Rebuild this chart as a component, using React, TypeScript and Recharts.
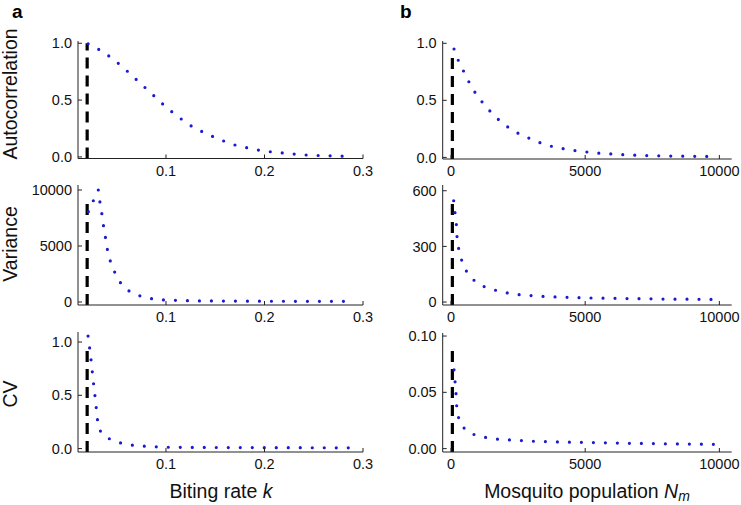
import React from 'react'
import { LineChart, Line, XAxis, YAxis, ReferenceLine } from 'recharts'

const FONT = '"Liberation Sans", Arial, Helvetica, sans-serif'
const DOT_BLUE = '#1a1ad0'

// column a: biting rate k
const kAuto = [0.021, 0.03, 0.04, 0.05, 0.06, 0.07, 0.08, 0.09, 0.1, 0.11, 0.12, 0.13, 0.14, 0.15, 0.16, 0.17, 0.18, 0.19, 0.2, 0.22, 0.24, 0.26, 0.284]
const autoK = [0.995, 0.955, 0.9, 0.835, 0.76, 0.68, 0.6, 0.52, 0.44, 0.37, 0.305, 0.25, 0.21, 0.17, 0.135, 0.105, 0.085, 0.066, 0.052, 0.033, 0.018, 0.011, 0.006]

const kVar = [0.0212, 0.0263, 0.0313, 0.033, 0.035, 0.0367, 0.0387, 0.0407, 0.0438, 0.0485, 0.0545, 0.0636, 0.0751, 0.0872, 0.0993, 0.112, 0.125, 0.15, 0.2, 0.25, 0.285]
const varK = [8065, 9048, 10000, 8900, 7827, 6726, 5685, 4613, 3571, 2560, 1637, 923, 506, 268, 179, 140, 110, 90, 70, 60, 55]

const kCv = [0.0209, 0.0226, 0.024, 0.0253, 0.0266, 0.028, 0.0293, 0.0306, 0.034, 0.0434, 0.0552, 0.067, 0.0795, 0.0916, 0.104, 0.13, 0.16, 0.2, 0.25, 0.289]
const cvK = [1.056, 0.9375, 0.828, 0.7125, 0.6, 0.4875, 0.375, 0.2625, 0.156, 0.0875, 0.05, 0.031, 0.022, 0.0156, 0.0125, 0.011, 0.01, 0.009, 0.008, 0.007]

// column b: mosquito population N_m
const nAuto = [112, 273, 472, 671, 907, 1193, 1491, 1801, 2174, 2584, 2994, 3404, 3839, 4298, 4745, 5193, 5640, 6099, 6547, 7006, 7453, 7913, 8373, 8832, 9292, 9752]
const autoN = [0.95, 0.849, 0.754, 0.66, 0.565, 0.476, 0.396, 0.325, 0.257, 0.201, 0.16, 0.121, 0.092, 0.072, 0.056, 0.044, 0.035, 0.028, 0.022, 0.018, 0.015, 0.013, 0.011, 0.01, 0.009, 0.008]

const nVar = [99, 149, 199, 224, 286, 398, 584, 882, 1255, 1689, 2137, 2584, 3043, 3490, 3950, 4397, 4857, 6000, 7000, 8000, 9000, 9851]
const varN = [546, 480, 418, 352, 287, 225, 164, 114, 82, 62.5, 48, 39, 34, 30, 27, 25, 23, 20, 18, 16, 15, 14]

const nCv = [112, 149, 186, 211, 286, 497, 870, 1317, 1764, 2211, 2671, 3118, 3578, 5000, 6500, 8000, 9963]
const cvN = [0.07, 0.0598, 0.0488, 0.0379, 0.0272, 0.018, 0.0124, 0.0098, 0.0083, 0.0077, 0.0071, 0.0065, 0.0062, 0.0055, 0.0048, 0.0043, 0.0038]

const kTicks = [0.1, 0.2, 0.3]
const nTicks = [0, 5000, 10000]
const unitTicks = [0, 0.5, 1]
const varKTicks = [0, 5000, 10000]
const varNTicks = [0, 300, 600]
const cvNTicks = [0, 0.05, 0.1]

const thresholdK = 0.02
const thresholdN = 50

const zip = (xs: number[], ys: number[]) => xs.map((x, i) => ({ x, y: ys[i] }))

type PanelProps = {
  left: number
  top: number
  width: number
  plotH: number
  ml: number
  mr: number
  xs: number[]
  ys: number[]
  xDomain: [number, number]
  xTicks: number[]
  xFmt: (v: number) => string
  yDomain: [number, number]
  yTicks: number[]
  yFmt: (v: number) => string
  refX: number
  refTop: number
}

function Panel(p: PanelProps) {
  const tickStyle = { fontSize: 14.5, fill: '#111', fontFamily: FONT }
  const h = p.plotH + 5 + 30
  return (
    <div style={{ position: 'absolute', left: p.left, top: p.top - 5 }}>
      <LineChart
        width={p.width}
        height={h}
        data={zip(p.xs, p.ys)}
        margin={{ top: 5, right: p.mr, bottom: 0, left: p.ml }}
      >
        <XAxis
          dataKey="x"
          type="number"
          domain={p.xDomain}
          allowDataOverflow
          ticks={p.xTicks}
          interval={0}
          tickFormatter={p.xFmt}
          height={30}
          tickSize={-4}
          tickMargin={11}
          tick={tickStyle}
          axisLine={{ stroke: '#222' }}
          tickLine={{ stroke: '#222' }}
        />
        <YAxis
          type="number"
          domain={p.yDomain}
          allowDataOverflow
          ticks={p.yTicks}
          interval={0}
          tickFormatter={p.yFmt}
          width={60}
          tickSize={-4}
          tickMargin={10}
          tick={tickStyle}
          axisLine={{ stroke: '#222' }}
          tickLine={{ stroke: '#222' }}
        />
        <ReferenceLine
          segment={[
            { x: p.refX, y: p.yDomain[0] },
            { x: p.refX, y: p.refTop },
          ]}
          stroke="#000"
          strokeWidth={3.2}
          strokeDasharray="11 7"
          ifOverflow="visible"
        />
        <Line
          dataKey="y"
          type="monotone"
          stroke={DOT_BLUE}
          strokeWidth={3.2}
          strokeDasharray="0 12"
          strokeLinecap="round"
          dot={false}
          activeDot={false}
          isAnimationActive={false}
        />
      </LineChart>
    </div>
  )
}

const f1 = (v: number) => v.toFixed(1)
const f2 = (v: number) => v.toFixed(2)
const fi = (v: number) => String(v)

export default function App() {
  const kDomain: [number, number] = [0.0107, 0.3]
  const nDomain: [number, number] = [-310, 10460]
  const leftCol = { left: 0, width: 385, ml: 18, mr: 22, xDomain: kDomain, xTicks: kTicks, xFmt: f1, refX: thresholdK }
  const rightCol = { left: 370, width: 371, ml: 12.7, mr: 9.3, xDomain: nDomain, xTicks: nTicks, xFmt: fi, refX: thresholdN }
  return (
    <div style={{ position: 'absolute', left: 0, top: 0, width: 741, height: 505, background: '#fff', fontFamily: FONT }}>
      <Panel {...leftCol} top={41} plotH={117.5} xs={kAuto} ys={autoK} yDomain={[-0.014, 1.02]} yTicks={unitTicks} yFmt={f1} refTop={1.0} />
      <Panel {...leftCol} top={185} plotH={120} xs={kVar} ys={varK} yDomain={[-268, 10446]} yTicks={varKTicks} yFmt={fi} refTop={9300} />
      <Panel {...leftCol} top={332} plotH={120} xs={kCv} ys={cvK} yDomain={[-0.032, 1.094]} yTicks={unitTicks} yFmt={f1} refTop={0.97} />
      <Panel {...rightCol} top={41} plotH={118} xs={nAuto} ys={autoN} yDomain={[-0.014, 1.02]} yTicks={unitTicks} yFmt={f1} refTop={0.92} />
      <Panel {...rightCol} top={185} plotH={120} xs={nVar} ys={varN} yDomain={[-16, 631]} yTicks={varNTicks} yFmt={fi} refTop={560} />
      <Panel {...rightCol} top={332.7} plotH={119} xs={nCv} ys={cvN} yDomain={[-0.003, 0.1027]} yTicks={cvNTicks} yFmt={f2} refTop={0.0917} />
      <svg width={741} height={505} style={{ position: 'absolute', left: 0, top: 0, pointerEvents: 'none' }} fontFamily={FONT}>
        <text x={12} y={18} fontSize={19} fontWeight="bold" fill="#000">a</text>
        <text x={400} y={18} fontSize={19} fontWeight="bold" fill="#000">b</text>
        <text x={17} y={94} fontSize={19.5} textAnchor="middle" transform="rotate(-90 17 94)" fill="#111">Autocorrelation</text>
        <text x={17} y={244} fontSize={19.5} textAnchor="middle" transform="rotate(-90 17 244)" fill="#111">Variance</text>
        <text x={17} y={394} fontSize={19.5} textAnchor="middle" transform="rotate(-90 17 394)" fill="#111">CV</text>
        <text x={221} y={498} fontSize={19.5} textAnchor="middle" fill="#111">
          Biting rate <tspan fontStyle="italic">k</tspan>
        </text>
        <text x={587} y={498} fontSize={19.5} textAnchor="middle" fill="#111">
          Mosquito population <tspan fontStyle="italic">N</tspan>
          <tspan fontStyle="italic" fontSize={14} dy={3}>m</tspan>
        </text>
      </svg>
    </div>
  )
}
